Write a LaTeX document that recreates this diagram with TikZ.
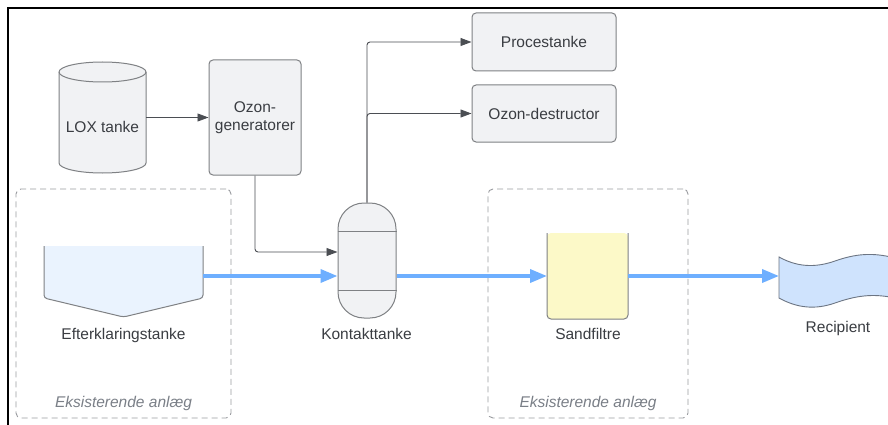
\documentclass[tikz,border=0pt]{standalone}
\usepackage{fontspec}
\setmainfont{Liberation Sans}
\usetikzlibrary{arrows.meta,calc}
\definecolor{txt}{HTML}{3A3D42}
\definecolor{itx}{HTML}{7A7F87}
\definecolor{boxline}{HTML}{7F8184}
\definecolor{boxfill}{HTML}{F1F2F4}
\definecolor{conn}{HTML}{4B4E53}
\definecolor{flowblue}{HTML}{6EAFFF}
\definecolor{eftfill}{HTML}{EAF3FE}
\definecolor{sandfill}{HTML}{FCF9C8}
\definecolor{recfill}{HTML}{CFE3FD}
\definecolor{recline}{HTML}{6C7583}
\definecolor{dashc}{HTML}{9A9CA0}
\tikzset{
  lbl/.style={font=\fontsize{15.5}{18}\selectfont, text=txt},
  glbl/.style={font=\fontsize{15.5}{18}\selectfont\itshape, text=itx},
  procbox/.style={draw=boxline, fill=boxfill, rounded corners=4pt, line width=1pt, lbl, align=center, inner sep=0pt},
  shapeline/.style={draw=boxline, line width=1pt},
  conn/.style={draw=conn, line width=0.9pt, -{Triangle[length=11pt,width=8pt]}, rounded corners=3pt},
  flow/.style={draw=flowblue, line width=3.5pt, -{Triangle[length=17pt,width=13pt]}},
  groupbox/.style={draw=dashc, dash pattern=on 6pt off 4pt, rounded corners=5pt, line width=0.9pt, inner sep=0pt},
  anchorbox/.style={inner sep=0pt, outer sep=0pt},
}
\begin{document}
\begin{tikzpicture}[x=1pt,y=-1pt]
\useasboundingbox (0,0) rectangle (888,425);
\fill[white] (0,0) rectangle (888,425);
% frame edges
\draw[line width=2.5pt, black] (8,430) -- (8,8) -- (892,8);

% groups
\node[groupbox, minimum width=215pt, minimum height=229pt] (g1) at (123.5,303.5) {};
\node[groupbox, minimum width=200pt, minimum height=229pt] (g2) at (588,303.5) {};
\node[glbl] (g1t) at (123.5,403) {Eksisterende anlæg};
\node[glbl] (g2t) at (588,403) {Eksisterende anlæg};

% LOX cylinder
\node[anchorbox, minimum width=87pt, minimum height=111pt] (lox) at (102.5,117.5) {};
\path[shapeline, fill=boxfill] ($(lox.north west)+(0,10)$) -- ($(lox.south west)+(0,-10)$)
  arc[start angle=180, end angle=360, x radius=43.5pt, y radius=10pt]
  -- ($(lox.north east)+(0,10)$)
  arc[start angle=0, end angle=180, x radius=43.5pt, y radius=10pt] -- cycle;
\draw[shapeline] ($(lox.north west)+(0,10)$) arc[start angle=180, end angle=360, x radius=43.5pt, y radius=10pt];
\node[lbl] (loxt) at (102.5,127) {LOX tanke};

% Ozone generator
\node[procbox, minimum width=92pt, minimum height=115pt] (ozon) at (255,117.5) {Ozon-\\generatorer};

% Procestanke & destructor
\node[procbox, minimum width=144pt, minimum height=58pt] (proc) at (544,42) {Procestanke};
\node[procbox, minimum width=144pt, minimum height=57pt] (destr) at (544,113.5) {Ozon-destructor};

% Efterklaringstanke
\node[anchorbox, minimum width=159pt, minimum height=60pt] (eft) at (123.5,276) {};
\fill[eftfill] (eft.north west) -- ($(eft.north west)+(0,52)$) -- ($(eft.north)+(0,71)$) -- ($(eft.north east)+(0,52)$) -- (eft.north east) -- cycle;
\draw[shapeline, rounded corners=3pt] (eft.north west) -- ($(eft.north west)+(0,52)$) -- ($(eft.north)+(0,71)$) -- ($(eft.north east)+(0,52)$) -- (eft.north east);
\node[lbl] (eftt) at (123.5,335) {Efterklaringstanke};

% Kontakttanke
\node[shapeline, fill=boxfill, rounded corners=26pt, minimum width=58pt, minimum height=115pt, inner sep=0pt] (kontakt) at (367,260.5) {};
\draw[shapeline] ($(kontakt.north west)+(0,29)$) -- ($(kontakt.north east)+(0,29)$);
\draw[shapeline] ($(kontakt.south west)+(0,-28)$) -- ($(kontakt.south east)+(0,-28)$);
\node[lbl] (kontaktt) at (366.5,334) {Kontakttanke};

% Sandfiltre
\node[anchorbox, minimum width=81pt, minimum height=86pt] (sand) at (587.5,276) {};
\fill[sandfill, rounded corners=4pt] (sand.north west) -- (sand.south west) -- (sand.south east) -- (sand.north east) -- cycle;
\draw[shapeline, rounded corners=4pt] (sand.north west) -- (sand.south west) -- (sand.south east) -- (sand.north east);
\node[lbl] (sandt) at (588,334) {Sandfiltre};

% Recipient
\node[anchorbox, minimum width=110pt, minimum height=51pt] (recip) at (834,282) {};
\draw[draw=recline, fill=recfill, line width=0.9pt]
  (779,257) .. controls (797,267) and (815,268) .. (835,261)
  .. controls (855,254) and (872,252) .. (895,258)
  -- (895,298)
  .. controls (872,293) and (855,296) .. (835,303)
  .. controls (815,310) and (797,308) .. (779,298) -- cycle;
\node[lbl] (recipt) at (838,328) {Recipient};

% connectors
\draw[conn] (lox.east) -- (ozon.west);
\draw[conn] (ozon.south) |- ([yshift=8.5pt]kontakt.west);
\draw[conn] (kontakt.north) |- (proc.west);
\draw[conn] (kontakt.north) |- (destr.west);

% flow
\draw[flow] (eft.east) -- (eft.east -| kontakt.west);
\draw[flow] (kontakt.east |- eft.east) -- (sand.west);
\draw[flow] (sand.east) -- (sand.east -| recip.west);
\end{tikzpicture}
\end{document}
